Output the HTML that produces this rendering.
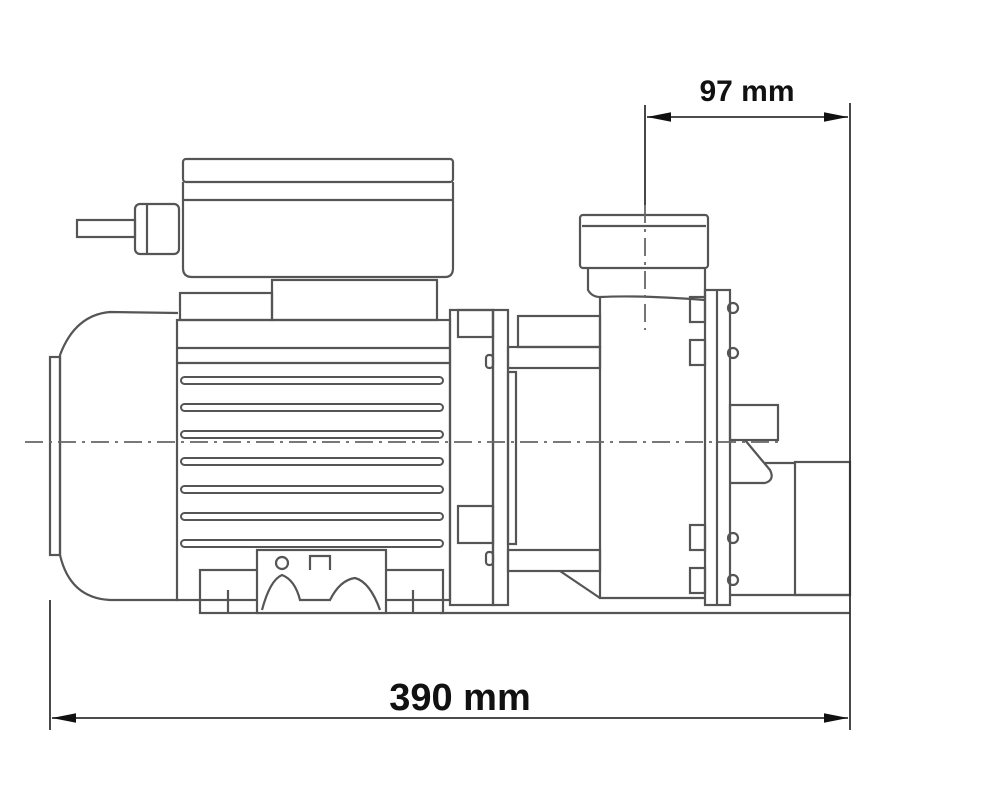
<!DOCTYPE html>
<html><head><style>html,body{margin:0;padding:0;background:#fff}svg{display:block}</style></head><body>
<svg width="1000" height="800" viewBox="0 0 1000 800" xmlns="http://www.w3.org/2000/svg">
<defs><marker id="a" viewBox="0 0 20 10" refX="20" refY="5" markerWidth="34" markerHeight="12" markerUnits="userSpaceOnUse" orient="auto-start-reverse"><path d="M0,1 L20,5 L0,9 Z" fill="#111"/></marker></defs>
<g fill="none" stroke="#555" stroke-width="2.2">
<rect x="183" y="159" width="270" height="23" rx="3"/>
<path d="M183,182 V268 Q183,277 192,277 H445 Q453,277 453,268 V182"/>
<line x1="183" y1="200" x2="453" y2="200"/>
<rect x="135" y="204" width="44" height="50" rx="5"/>
<line x1="147" y1="204" x2="147" y2="254"/>
<rect x="77" y="220" width="58" height="17"/>
<rect x="180" y="293" width="92" height="27"/>
<rect x="272" y="280" width="165" height="40"/>
<path d="M178,313 L110,312 Q75,315 60,355 V555 Q70,598 110,600 L178,600"/>
<rect x="50" y="357" width="10" height="198"/>
<rect x="177" y="320" width="273" height="280"/>
<line x1="177" y1="348" x2="450" y2="348"/>
<line x1="177" y1="363" x2="450" y2="363"/>
<g stroke-width="2">
<rect x="181" y="377" width="262" height="7" rx="3.5"/>
<rect x="181" y="404" width="262" height="7" rx="3.5"/>
<rect x="181" y="431" width="262" height="7" rx="3.5"/>
<rect x="181" y="458" width="262" height="7" rx="3.5"/>
<rect x="181" y="486" width="262" height="7" rx="3.5"/>
<rect x="181" y="513" width="262" height="7" rx="3.5"/>
<rect x="181" y="540" width="262" height="7" rx="3.5"/>
</g>
<rect x="200" y="570" width="243" height="43"/>
<rect x="257" y="550" width="129" height="63" fill="#fff"/>
<circle cx="282" cy="563" r="6"/>
<path d="M310,570 V556 H330 V570"/>
<path d="M262,610 Q270,580 282,575 Q295,580 300,600 H330 Q340,580 355,578 Q370,582 380,610"/>
<line x1="228" y1="590" x2="228" y2="613"/>
<line x1="413" y1="590" x2="413" y2="613"/>
<rect x="450" y="310" width="43" height="295"/>
<rect x="458" y="310" width="35" height="27"/>
<rect x="458" y="506" width="35" height="37"/>
<rect x="493" y="310" width="15" height="295"/>
<rect x="508" y="372" width="8" height="172"/>
<rect x="486" y="355" width="7" height="13" rx="3"/>
<rect x="486" y="552" width="7" height="13" rx="3"/>
<rect x="508" y="347" width="92" height="21"/>
<rect x="508" y="550" width="92" height="21"/>
<rect x="518" y="316" width="82" height="31"/>
<path d="M560,571 L600,598"/>
<path d="M600,297 V598 H705"/>
<path d="M600,297 Q640,295 705,300"/>
<rect x="580" y="215" width="128" height="53" rx="3"/>
<line x1="582" y1="226" x2="706" y2="226"/>
<path d="M588,268 V290 Q592,297 600,297"/>
<line x1="705" y1="268" x2="705" y2="297"/>
<rect x="705" y="290" width="25" height="315"/>
<line x1="717" y1="290" x2="717" y2="605"/>
<rect x="690" y="297" width="15" height="25"/>
<rect x="690" y="340" width="15" height="25"/>
<rect x="690" y="525" width="15" height="25"/>
<rect x="690" y="568" width="15" height="25"/>
<circle cx="733" cy="308" r="5"/><circle cx="733" cy="353" r="5"/>
<circle cx="733" cy="538" r="5"/><circle cx="733" cy="580" r="5"/>
<rect x="730" y="405" width="48" height="35"/>
<path d="M745,440 L770,470 Q775,480 765,483 H730"/>
<path d="M765,463 H795"/>
<rect x="795" y="462" width="55" height="133"/>
<line x1="730" y1="595" x2="850" y2="595"/>
<line x1="440" y1="613" x2="850" y2="613"/>
</g>
<g stroke="#666" stroke-width="1.8" stroke-dasharray="18,6,3,6" fill="none">
<line x1="25" y1="442" x2="780" y2="442"/>
<line x1="645" y1="205" x2="645" y2="330"/>
</g>
<g stroke="#333" stroke-width="1.8" fill="none">
<line x1="645" y1="105" x2="645" y2="205"/>
<line x1="850" y1="103" x2="850" y2="730"/>
<line x1="50" y1="600" x2="50" y2="730"/>
<line x1="647" y1="117" x2="848" y2="117" marker-start="url(#a)" marker-end="url(#a)"/>
<line x1="52" y1="718" x2="848" y2="718" marker-start="url(#a)" marker-end="url(#a)"/>
</g>
<text x="747" y="101" font-family="Liberation Sans, sans-serif" font-weight="bold" font-size="30" text-anchor="middle" fill="#111">97 mm</text>
<text x="460" y="710" font-family="Liberation Sans, sans-serif" font-weight="bold" font-size="38" text-anchor="middle" fill="#111">390 mm</text>
</svg>
</body></html>
